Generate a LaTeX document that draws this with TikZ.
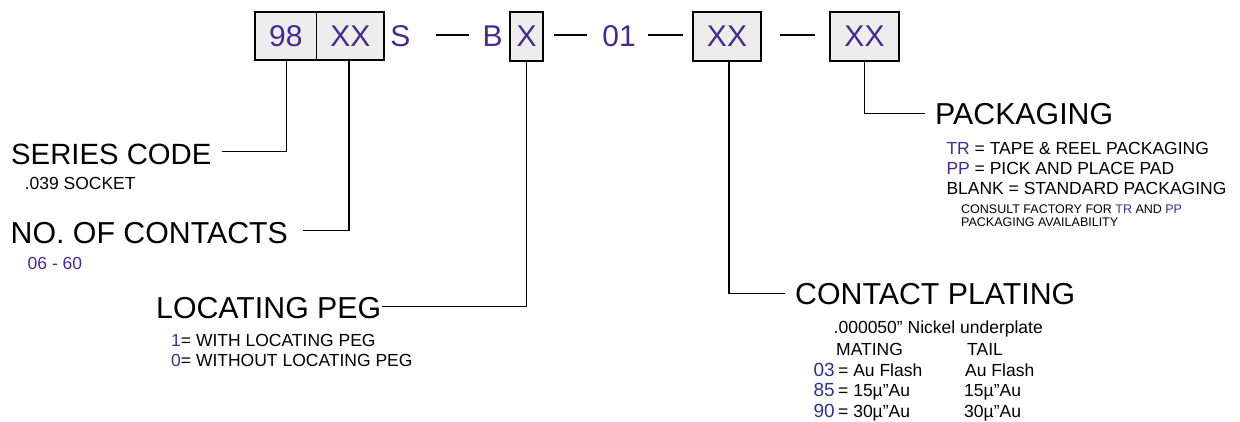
\documentclass[tikz,border=0pt]{standalone}
\usepackage{fontspec}
\setmainfont{Liberation Sans}
\definecolor{codepurple}{RGB}{70,42,140}
\definecolor{codeblue}{RGB}{42,52,142}
\definecolor{boxgray}{RGB}{237,237,237}
\tikzset{
  box/.style={draw=black, line width=1.4pt, fill=boxgray, inner sep=0pt, text=codepurple, font=\fontsize{30}{36}\selectfont},
  code/.style={inner sep=0pt, text=codepurple, font=\fontsize{30}{36}\selectfont},
  head/.style={inner sep=0pt, anchor=base west, font=\fontsize{30.3}{36}\selectfont},
  sub/.style={inner sep=0pt, anchor=base west, font=\fontsize{17.5}{21}\selectfont},
  note/.style={inner sep=0pt, anchor=base west, font=\fontsize{12.5}{15}\selectfont},
  num/.style={inner sep=0pt, anchor=base east, text=codeblue, font=\fontsize{19}{23}\selectfont},
  conn/.style={line width=1.4pt},
  sepline/.style={line width=1.5pt}
}
\begin{document}
\begin{tikzpicture}[x=1pt,y=-1pt]
\useasboundingbox (0,0) rectangle (1240,422);
% code row
\node[box, minimum width=61.7pt, minimum height=48pt] (b98) at (285.85,36) {98};
\node[box, minimum width=67.3pt, minimum height=48pt] (bxx) at (350.35,36) {XX};
\node[code] (s) at (400.5,36) {S};
\node[code] (b) at (492.5,36) {B};
\node[box, minimum width=33pt, minimum height=49pt] (bx) at (526.5,36.5) {X};
\node[code] (z1) at (619,36) {01};
\node[box, minimum width=68pt, minimum height=49pt] (bxx3) at (727,36.5) {XX};
\node[box, minimum width=69pt, minimum height=49pt] (bxx4) at (864.5,36.5) {XX};
\draw[sepline] (436,35) -- (469,35);
\draw[sepline] (554,35) -- (587,35);
\draw[sepline] (648,35) -- (683,35);
\draw[sepline] (780,35) -- (815,35);
% labels
\node[head, font=\fontsize{29.3}{35}\selectfont] (series) at (11,165) {SERIES CODE};
\node[sub] (socket) at (24.5,190) {.039 SOCKET};
\node[head] (contacts) at (10.5,243.3) {NO. OF CONTACTS};
\node[sub, text=codepurple] (range) at (27.5,269.3) {06 - 60};
\node[head] (peg) at (156,318.3) {LOCATING PEG};
\node[sub] (peg1) at (171,346) {\textcolor{codepurple}{1}= WITH LOCATING PEG};
\node[sub] (peg0) at (171,366.7) {\textcolor{codepurple}{0}= WITHOUT LOCATING PEG};
\node[head] (pack) at (935,125) {PACKAGING};
\node[sub] (pk1) at (946.3,155) {\textcolor{codepurple}{TR} = TAPE \& REEL PACKAGING};
\node[sub] (pk2) at (946.3,175) {\textcolor{codepurple}{PP} = PICK AND PLACE PAD};
\node[sub] (pk3) at (946.3,195) {BLANK = STANDARD PACKAGING};
\node[note] (pk4) at (961,213.3) {CONSULT FACTORY FOR \textcolor{codepurple}{TR} AND \textcolor{codepurple}{PP}};
\node[note] (pk5) at (961,226.7) {PACKAGING AVAILABILITY};
\node[head] (plating) at (795,305) {CONTACT PLATING};
\node[sub] (nickel) at (833.5,333.3) {.000050” Nickel underplate};
\node[sub] (mating) at (836,355) {MATING};
\node[sub] (tail) at (967,355) {TAIL};
\node[num] (n03) at (835,376.7) {03};
\node[sub] (m03) at (838,376.7) {= Au Flash};
\node[sub] (t03) at (965,376.7) {Au Flash};
\node[num] (n85) at (835,396.7) {85};
\node[sub] (m85) at (838,396.7) {= 15µ”Au};
\node[sub] (t85) at (964,396.7) {15µ”Au};
\node[num] (n90) at (835,417) {90};
\node[sub] (m90) at (838,417) {= 30µ”Au};
\node[sub] (t90) at (964,417) {30µ”Au};
% connector ends
\coordinate (e1) at (221.7,151.7);
\coordinate (e2) at (302.7,230.7);
\coordinate (e3) at (381.7,306.7);
\coordinate (e4) at (785,293.3);
\coordinate (e5) at (925,113.3);
\draw[conn] ([xshift=0.85pt]b98.south) |- (e1);
\draw[conn] ([xshift=-1.35pt]bxx.south) |- (e2);
\draw[conn] (bx.south) |- (e3);
\draw[conn] ([xshift=2pt]bxx3.south) |- (e4);
\draw[conn] (bxx4.south) |- (e5);
\end{tikzpicture}
\end{document}
